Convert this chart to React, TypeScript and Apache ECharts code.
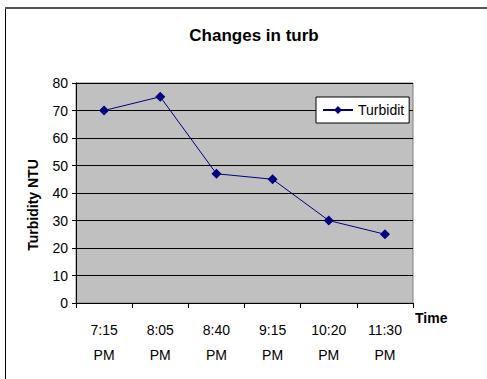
import React, { useEffect, useRef } from "react";
import * as echarts from "echarts";

const times = ["7:15\nPM", "8:05\nPM", "8:40\nPM", "9:15\nPM", "10:20\nPM", "11:30\nPM"];
const turbidity = [70, 75, 47, 45, 30, 25];
const yTicks = [0, 80, 10];

const FONT = "'Liberation Sans', Arial, sans-serif";

export default function App() {
  const ref = useRef<HTMLDivElement>(null);

  useEffect(() => {
    if (!ref.current) return;
    const chart = echarts.init(ref.current, null, { renderer: "svg" });
    chart.setOption({
      animation: false,
      backgroundColor: "#ffffff",
      title: {
        text: "Changes in turb",
        left: 249,
        top: 22,
        textAlign: "center",
        textStyle: { fontFamily: FONT, fontSize: 17, fontWeight: "bold", color: "#000" },
      },
      legend: {
        left: 316,
        top: 97,
        padding: [6, 5, 6, 6],
        itemWidth: 30,
        itemHeight: 10,
        itemGap: 0,
        backgroundColor: "#ffffff",
        borderColor: "#000000",
        borderWidth: 1,
        textStyle: {
          fontFamily: FONT,
          fontSize: 14,
          color: "#000",
          width: 50,
          overflow: "truncate",
          ellipsis: "",
        },
        data: ["Turbidity"],
      },
      grid: {
        left: 76,
        top: 83,
        width: 337,
        height: 220,
        show: true,
        backgroundColor: "#c0c0c0",
        borderColor: "#808080",
        borderWidth: 1,
      },
      xAxis: {
        type: "category",
        data: times,
        boundaryGap: true,
        name: "Time",
        nameLocation: "end",
        nameGap: 2,
        nameTextStyle: {
          fontFamily: FONT,
          fontSize: 14,
          fontWeight: "bold",
          color: "#000",
          verticalAlign: "top",
          padding: [8, 0, 0, 0],
          width: 37,
          overflow: "truncate",
          ellipsis: "",
        },
        axisLine: { lineStyle: { color: "#000", width: 1 } },
        axisTick: { show: true, length: 5, inside: false, alignWithLabel: false, lineStyle: { color: "#000" } },
        axisLabel: {
          fontFamily: FONT,
          fontSize: 14,
          color: "#000",
          lineHeight: 25,
          margin: 14,
        },
        splitLine: { show: false },
      },
      yAxis: {
        type: "value",
        min: yTicks[0],
        max: yTicks[1],
        interval: yTicks[2],
        axisLine: { show: true, lineStyle: { color: "#000", width: 1 } },
        axisTick: { show: true, length: 4, lineStyle: { color: "#000" } },
        axisLabel: { fontFamily: FONT, fontSize: 14, color: "#000", margin: 8 },
        splitLine: { show: true, lineStyle: { color: "#000", width: 1 } },
      },
      graphic: [
        {
          type: "rect",
          shape: { x: 5.5, y: 8.5, width: 600, height: 500 },
          style: { fill: "none", stroke: "#000", lineWidth: 1 },
          z: 10,
        },
        {
          type: "line",
          shape: { x1: 5, y1: 8, x2: 487, y2: 8 },
          style: { stroke: "#555", lineWidth: 2 },
          z: 10,
        },
        {
          type: "text",
          x: 33,
          y: 205,
          rotation: Math.PI / 2,
          style: {
            text: "Turbidity NTU",
            fontFamily: FONT,
            fontSize: 14,
            fontWeight: "bold",
            fill: "#000",
            align: "center",
            verticalAlign: "middle",
          },
        },
      ],
      series: [
        {
          name: "Turbidity",
          type: "line",
          data: turbidity,
          symbol: "diamond",
          symbolSize: 10,
          itemStyle: { color: "#000080" },
          lineStyle: { color: "#000080", width: 1 },
        },
      ],
    });
    return () => chart.dispose();
  }, []);

  return (
    <div
      ref={ref}
      style={{ position: "absolute", left: 0, top: 0, width: 487, height: 379 }}
    />
  );
}
